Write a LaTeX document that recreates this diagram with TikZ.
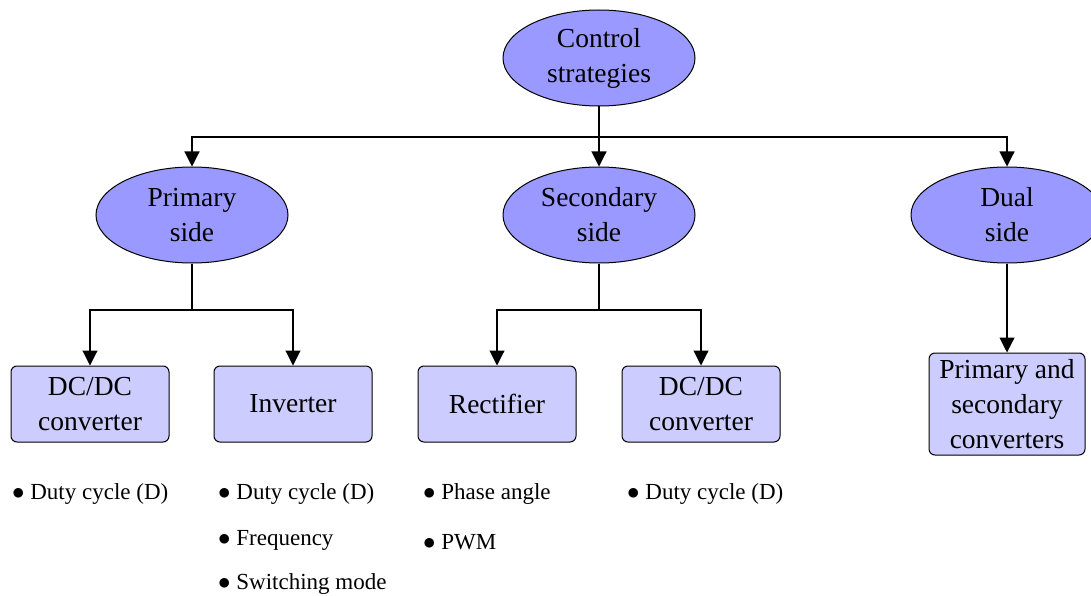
\documentclass[tikz,border=0pt]{standalone}
\usepackage{fontspec}
\setmainfont{Liberation Serif}
\usetikzlibrary{shapes.geometric,arrows.meta}
\begin{document}
\begin{tikzpicture}[x=1pt,y=-1pt,
  ell/.style={ellipse,draw,line width=1pt,fill={rgb,255:red,153;green,153;blue,255},minimum width=192pt,minimum height=96pt,inner sep=0pt,align=center,font=\fontsize{27.5}{35}\selectfont},
  box/.style={rectangle,rounded corners=6pt,draw,line width=1pt,fill={rgb,255:red,204;green,204;blue,255},minimum width=158pt,minimum height=76pt,inner sep=0pt,align=center,font=\fontsize{27.5}{35}\selectfont},
  bul/.style={anchor=west,inner sep=0pt,font=\fontsize{23}{27}\selectfont},
  arr/.style={line width=1.1pt,-{Triangle[length=15pt,width=15pt]}},
  ln/.style={line width=1.1pt}]
\useasboundingbox (0,0) rectangle (1091,596);
\node[ell] (cs) at (599,58) {Control\\strategies};
\node[ell] (ps) at (192,215) {Primary\\side};
\node[ell] (ss) at (599,215) {Secondary\\side};
\node[ell] (ds) at (1007,215) {Dual\\side};
\node[box] (b1) at (90,404) {DC/DC\\converter};
\node[box] (b2) at (293,404) {Inverter};
\node[box] (b3) at (497,404) {Rectifier};
\node[box] (b4) at (701,404) {DC/DC\\converter};
\node[box,minimum width=156pt,minimum height=102pt] (b5) at (1007,404) {Primary and\\secondary\\converters};
\coordinate (j1) at (599,137);
\coordinate (j2) at (192,310);
\coordinate (j3) at (599,310);
\draw[ln] (cs.south) -- (j1);
\draw[arr] (j1) -- (ss.north);
\draw[arr] (j1) -| (ps.north);
\draw[arr] (j1) -| (ds.north);
\draw[ln] (ps.south) -- (j2);
\draw[arr] (j2) -| (b1.north);
\draw[arr] (j2) -| (b2.north);
\draw[ln] (ss.south) -- (j3);
\draw[arr] (j3) -| (b3.north);
\draw[arr] (j3) -| (b4.north);
\draw[arr] (ds.south) -- (b5.north);
\node[bul] (t1) at (12,494) {$\bullet$ Duty cycle (D)};
\node[bul] (t2) at (218,494) {$\bullet$ Duty cycle (D)};
\node[bul] (t3) at (218,540) {$\bullet$ Frequency};
\node[bul] (t4) at (218,584) {$\bullet$ Switching mode};
\node[bul] (t5) at (423,494) {$\bullet$ Phase angle};
\node[bul] (t6) at (423,542) {$\bullet$ PWM};
\node[bul] (t7) at (627,494) {$\bullet$ Duty cycle (D)};
\end{tikzpicture}
\end{document}
